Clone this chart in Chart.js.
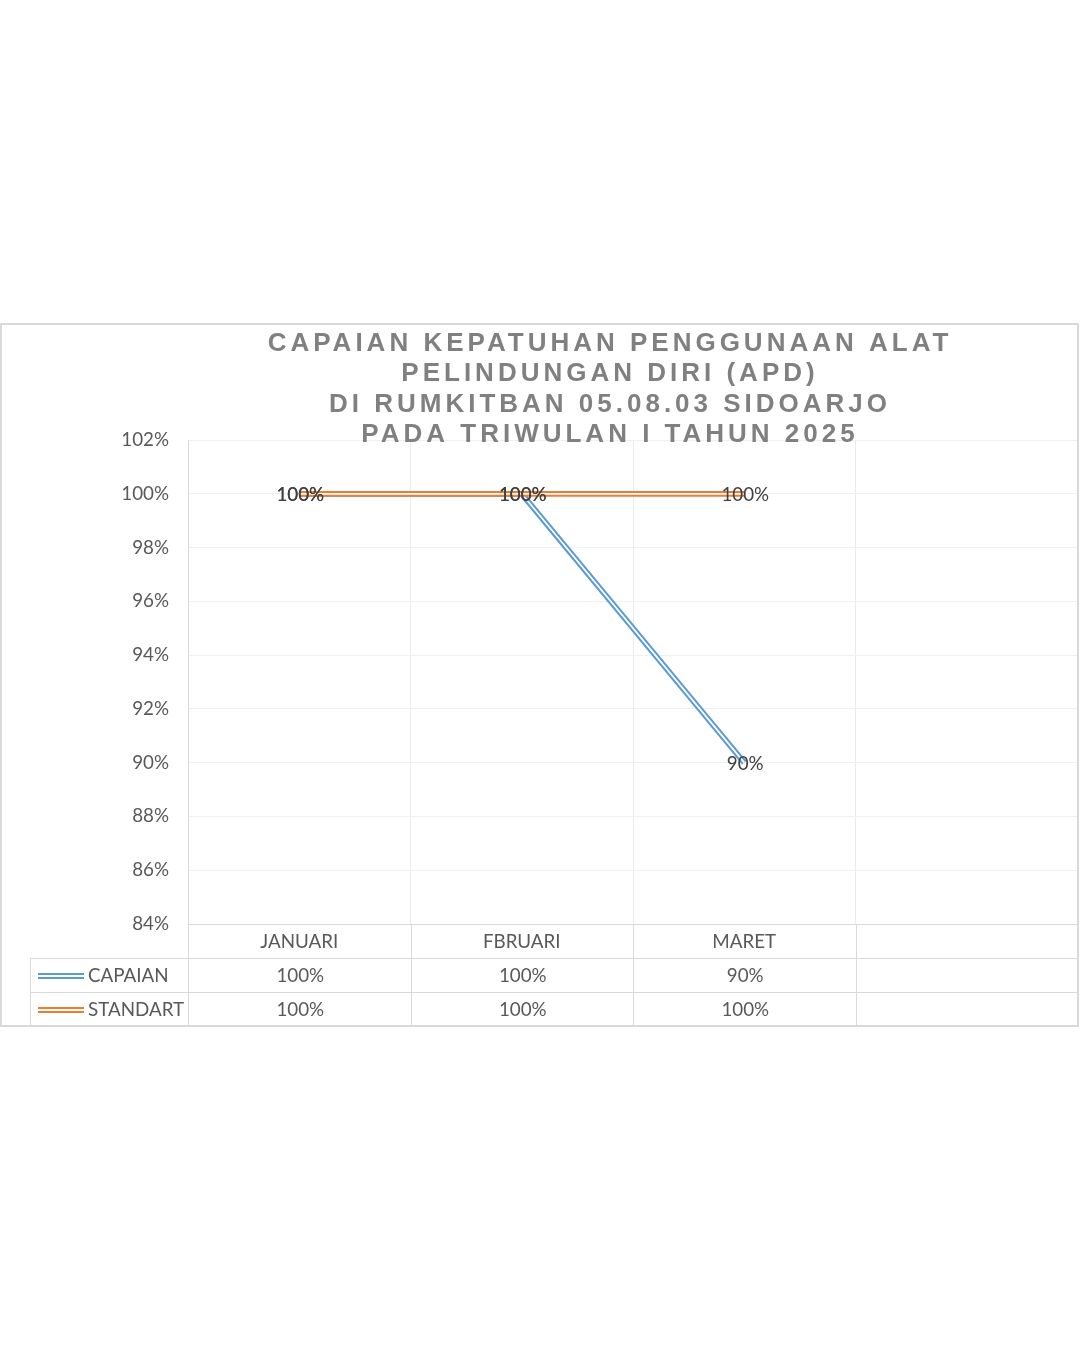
<!DOCTYPE html>
<html>
<head>
<meta charset="utf-8">
<script src="https://cdn.jsdelivr.net/npm/chart.js@4.4.1/dist/chart.umd.min.js"></script>
<style>
  body { margin: 0; background: #fff; }
  canvas { display: block; }
</style>
</head>
<body>
<canvas id="apdChart" width="1080" height="1350"></canvas>
<script>
// data
const categories = ['JANUARI', 'FBRUARI', 'MARET', ''];
const capaian = [100, 100, 90];
const standart = [100, 100, 100];
const seriesNames = ['CAPAIAN', 'STANDART'];
const seriesColors = ['#5B9BD5', '#ED7D31'];
const yMin = 84, yMax = 102, yStep = 2;
const titleLines = [
    'CAPAIAN KEPATUHAN PENGGUNAAN ALAT',
    'PELINDUNGAN DIRI (APD)',
    'DI RUMKITBAN 05.08.03 SIDOARJO',
    'PADA TRIWULAN I TAHUN 2025'
];

const labelFont = '18.8px Lato, "Open Sans", sans-serif';
const lineGray = '#d9d9d9';

// draws the white stripe inside each line so it looks like a double line
const doubleLine = {
    id: 'doubleLine',
    afterDatasetDraw(chart, args) {
        const pts = args.meta.data;
        const ctx = chart.ctx;
        ctx.save();
        ctx.strokeStyle = '#ffffff';
        ctx.lineWidth = 1.8;
        ctx.beginPath();
        pts.forEach((p, i) => i ? ctx.lineTo(p.x, p.y) : ctx.moveTo(p.x, p.y));
        ctx.stroke();
        ctx.restore();
    }
};

const dataLabels = {
    id: 'dataLabels',
    afterDatasetsDraw(chart) {
        const ctx = chart.ctx;
        ctx.save();
        ctx.font = labelFont;
        ctx.fillStyle = '#404040';
        ctx.textAlign = 'center';
        ctx.textBaseline = 'middle';
        chart.data.datasets.forEach((ds, d) => {
            chart.getDatasetMeta(d).data.forEach((p, i) => {
                ctx.fillText(ds.data[i] + '%', p.x + 1, p.y + 1);
            });
        });
        ctx.restore();
    }
};

// title, outer frame and the data table under the x axis
const frame = {
    id: 'frame',
    afterDraw(chart) {
        const ctx = chart.ctx;
        const area = chart.chartArea;
        const x = chart.scales.x;
        const rowH = 34;
        const top = area.bottom;
        const half = (x.getPixelForValue(1) - x.getPixelForValue(0)) / 2;
        ctx.save();

        ctx.strokeStyle = lineGray;
        ctx.lineWidth = 1;
        for (let r = 1; r <= 2; r++) {
            ctx.beginPath();
            ctx.moveTo(30, top + rowH * r + 0.5);
            ctx.lineTo(area.right, top + rowH * r + 0.5);
            ctx.stroke();
        }
        ctx.beginPath();
        ctx.moveTo(30.5, top + rowH);
        ctx.lineTo(30.5, top + rowH * 3);
        ctx.stroke();
        categories.forEach((c, i) => {
            const bx = Math.round(x.getPixelForValue(i) - half) + 0.5;
            ctx.beginPath();
            ctx.moveTo(bx, top);
            ctx.lineTo(bx, top + rowH * 3);
            ctx.stroke();
        });

        ctx.lineWidth = 2;
        ctx.strokeRect(1, 324, area.right - 1, top + rowH * 3 - 324);

        const rows = [capaian, standart];
        ctx.font = labelFont;
        ctx.textBaseline = 'middle';
        rows.forEach((vals, r) => {
            const cy = top + rowH * (r + 1) + rowH / 2 + 1;
            ctx.fillStyle = '#595959';
            ctx.textAlign = 'center';
            vals.forEach((v, i) => ctx.fillText(v + '%', x.getPixelForValue(i) + 1, cy));
            ctx.textAlign = 'left';
            ctx.fillText(seriesNames[r], 88, cy);
            ctx.fillStyle = seriesColors[r];
            ctx.fillRect(38, cy - 3, 46, 2);
            ctx.fillRect(38, cy + 1, 46, 2);
        });

        ctx.fillStyle = '#808080';
        ctx.font = 'bold 26px "Liberation Sans", Arial, sans-serif';
        ctx.letterSpacing = '4px';
        ctx.textAlign = 'center';
        titleLines.forEach((t, i) => ctx.fillText(t, 610, 344 + i * 30.3));
        ctx.restore();
    }
};

new Chart(document.getElementById('apdChart'), {
    type: 'line',
    data: {
        labels: categories,
        datasets: [
            { label: seriesNames[0], data: capaian, borderColor: seriesColors[0], borderWidth: 5.8, pointRadius: 0, order: 2, tension: 0 },
            { label: seriesNames[1], data: standart, borderColor: seriesColors[1], borderWidth: 5.8, pointRadius: 0, order: 1, tension: 0 }
        ]
    },
    options: {
        responsive: false,
        animation: false,
        layout: { padding: { left: 2, top: 440, right: 2, bottom: 324 } },
        plugins: {
            legend: { display: false },
            title: { display: false },
            tooltip: { enabled: false }
        },
        scales: {
            x: {
                offset: true,
                afterFit(s) { s.height = 102; },
                grid: { color: '#ebebeb', offset: true, drawTicks: false },
                border: { color: lineGray },
                ticks: { color: '#595959', font: { family: 'Lato', size: 18.8 }, padding: 7, autoSkip: false, maxRotation: 0 }
            },
            y: {
                min: yMin,
                max: yMax,
                afterFit(s) { s.width = 186; },
                grid: { color: '#f0f0f0', drawTicks: false },
                border: { color: lineGray },
                ticks: {
                    stepSize: yStep,
                    color: '#595959',
                    font: { family: 'Lato', size: 18.8 },
                    padding: 19,
                    callback: v => v + '%'
                }
            }
        }
    },
    plugins: [doubleLine, dataLabels, frame]
});
</script>
</body>
</html>
